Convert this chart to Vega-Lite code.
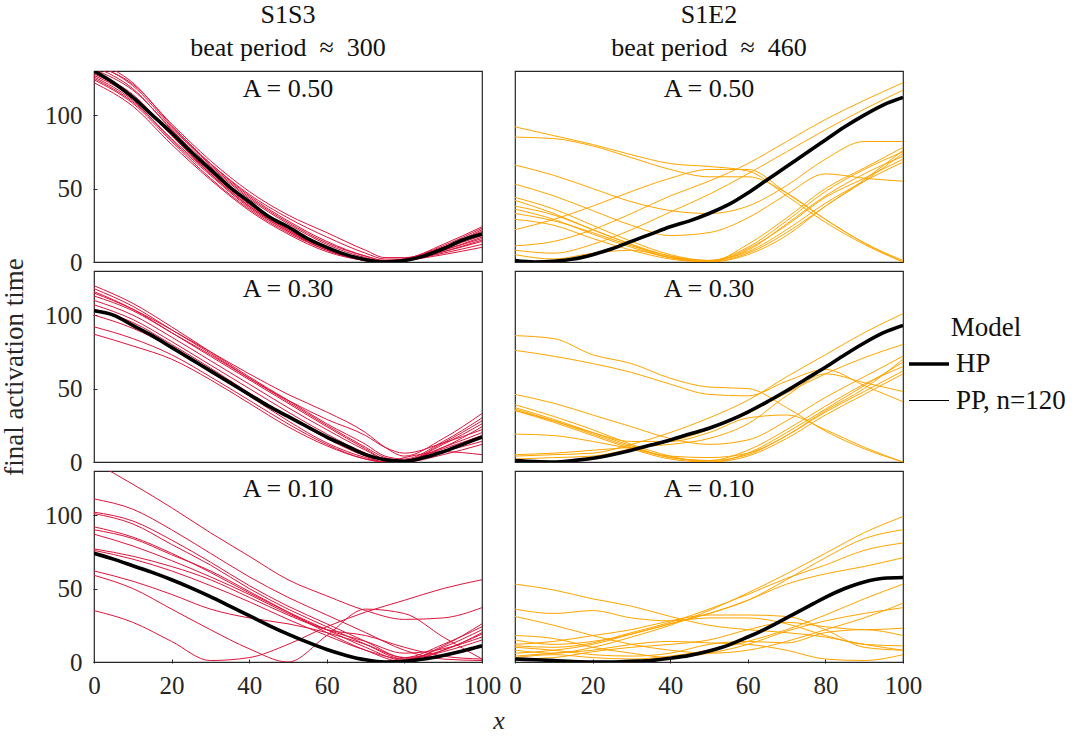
{
"$schema":"https://vega.github.io/schema/vega-lite/v6.json",
"padding":{"left":0,"top":2,"right":5,"bottom":5},
"config":{"font":"Liberation Serif","view":{"stroke":"#262626","strokeWidth":1.2},
"axis":{"domain":false,"grid":false,"tickSize":-4,"tickColor":"#262626","labelColor":"#262626","labelFont":"Liberation Serif","labelFontSize":25,"labelFlush":false,"labelOverlap":false,"labelBound":false,"labelPadding":15},
"axisX":{"labelPadding":14}},
"datasets":{
"panels":[{"p":1,"c":"S1S3","a":"0.50","lab":"A = 0.50"},{"p":2,"c":"S1E2","a":"0.50","lab":"A = 0.50"},{"p":3,"c":"S1S3","a":"0.30","lab":"A = 0.30"},{"p":4,"c":"S1E2","a":"0.30","lab":"A = 0.30"},{"p":5,"c":"S1S3","a":"0.10","lab":"A = 0.10"},{"p":6,"c":"S1E2","a":"0.10","lab":"A = 0.10"}],
"series":[{"s":0,"m":"HP"},{"s":1,"m":"PP, n=120"},{"s":2,"m":"PP, n=120"},{"s":3,"m":"PP, n=120"},{"s":4,"m":"PP, n=120"},{"s":5,"m":"PP, n=120"},{"s":6,"m":"PP, n=120"},{"s":7,"m":"PP, n=120"},{"s":8,"m":"PP, n=120"},{"s":9,"m":"PP, n=120"},{"s":10,"m":"PP, n=120"},{"s":11,"m":"PP, n=120"},{"s":12,"m":"PP, n=120"},{"s":13,"m":"PP, n=120"},{"s":14,"m":"PP, n=120"}],
"pts":[
{"p":1,"s":0,"x":0,"y":130},{"p":1,"s":0,"x":5,"y":122},{"p":1,"s":0,"x":10,"y":112},{"p":1,"s":0,"x":15,"y":100},{"p":1,"s":0,"x":20,"y":88},{"p":1,"s":0,"x":25,"y":75},{"p":1,"s":0,"x":30,"y":63},{"p":1,"s":0,"x":35,"y":51},{"p":1,"s":0,"x":40,"y":41},{"p":1,"s":0,"x":45,"y":31},{"p":1,"s":0,"x":50,"y":24},{"p":1,"s":0,"x":55,"y":16},{"p":1,"s":0,"x":60,"y":10},{"p":1,"s":0,"x":65,"y":5},{"p":1,"s":0,"x":70,"y":1.5},{"p":1,"s":0,"x":75,"y":0},{"p":1,"s":0,"x":80,"y":1},{"p":1,"s":0,"x":85,"y":4},{"p":1,"s":0,"x":90,"y":9},{"p":1,"s":0,"x":95,"y":15},{"p":1,"s":0,"x":100,"y":19},
{"p":1,"s":1,"x":0,"y":135},{"p":1,"s":1,"x":10,"y":120},{"p":1,"s":1,"x":20,"y":92},{"p":1,"s":1,"x":30,"y":66},{"p":1,"s":1,"x":40,"y":44},{"p":1,"s":1,"x":50,"y":27},{"p":1,"s":1,"x":60,"y":13},{"p":1,"s":1,"x":70,"y":4},{"p":1,"s":1,"x":75,"y":1},{"p":1,"s":1,"x":80,"y":2},{"p":1,"s":1,"x":90,"y":10},{"p":1,"s":1,"x":100,"y":22},
{"p":1,"s":2,"x":0,"y":133},{"p":1,"s":2,"x":10,"y":118},{"p":1,"s":2,"x":20,"y":90},{"p":1,"s":2,"x":30,"y":65},{"p":1,"s":2,"x":40,"y":43},{"p":1,"s":2,"x":50,"y":26},{"p":1,"s":2,"x":60,"y":12},{"p":1,"s":2,"x":70,"y":3},{"p":1,"s":2,"x":75,"y":0.5},{"p":1,"s":2,"x":80,"y":2},{"p":1,"s":2,"x":90,"y":11},{"p":1,"s":2,"x":100,"y":23},
{"p":1,"s":3,"x":0,"y":128},{"p":1,"s":3,"x":10,"y":113},{"p":1,"s":3,"x":20,"y":86},{"p":1,"s":3,"x":30,"y":61},{"p":1,"s":3,"x":40,"y":39},{"p":1,"s":3,"x":50,"y":22},{"p":1,"s":3,"x":60,"y":9},{"p":1,"s":3,"x":70,"y":2},{"p":1,"s":3,"x":75,"y":0},{"p":1,"s":3,"x":80,"y":1},{"p":1,"s":3,"x":90,"y":8},{"p":1,"s":3,"x":100,"y":17},
{"p":1,"s":4,"x":0,"y":126},{"p":1,"s":4,"x":10,"y":110},{"p":1,"s":4,"x":20,"y":83},{"p":1,"s":4,"x":30,"y":59},{"p":1,"s":4,"x":40,"y":37},{"p":1,"s":4,"x":50,"y":21},{"p":1,"s":4,"x":60,"y":8},{"p":1,"s":4,"x":70,"y":1},{"p":1,"s":4,"x":75,"y":0},{"p":1,"s":4,"x":80,"y":1},{"p":1,"s":4,"x":90,"y":7},{"p":1,"s":4,"x":100,"y":15},
{"p":1,"s":5,"x":0,"y":124},{"p":1,"s":5,"x":10,"y":108},{"p":1,"s":5,"x":20,"y":82},{"p":1,"s":5,"x":30,"y":57},{"p":1,"s":5,"x":40,"y":36},{"p":1,"s":5,"x":50,"y":20},{"p":1,"s":5,"x":60,"y":8},{"p":1,"s":5,"x":70,"y":1},{"p":1,"s":5,"x":75,"y":0},{"p":1,"s":5,"x":80,"y":1},{"p":1,"s":5,"x":90,"y":6},{"p":1,"s":5,"x":100,"y":12},
{"p":1,"s":6,"x":0,"y":122},{"p":1,"s":6,"x":10,"y":106},{"p":1,"s":6,"x":20,"y":80},{"p":1,"s":6,"x":30,"y":56},{"p":1,"s":6,"x":40,"y":35},{"p":1,"s":6,"x":50,"y":19},{"p":1,"s":6,"x":60,"y":7},{"p":1,"s":6,"x":70,"y":1},{"p":1,"s":6,"x":75,"y":0},{"p":1,"s":6,"x":80,"y":1},{"p":1,"s":6,"x":90,"y":5},{"p":1,"s":6,"x":100,"y":10},
{"p":1,"s":7,"x":0,"y":131},{"p":1,"s":7,"x":10,"y":117},{"p":1,"s":7,"x":20,"y":91},{"p":1,"s":7,"x":30,"y":67},{"p":1,"s":7,"x":40,"y":46},{"p":1,"s":7,"x":50,"y":30},{"p":1,"s":7,"x":60,"y":17},{"p":1,"s":7,"x":70,"y":6},{"p":1,"s":7,"x":75,"y":2},{"p":1,"s":7,"x":80,"y":2},{"p":1,"s":7,"x":90,"y":9},{"p":1,"s":7,"x":100,"y":20},
{"p":1,"s":8,"x":0,"y":134},{"p":1,"s":8,"x":10,"y":121},{"p":1,"s":8,"x":20,"y":94},{"p":1,"s":8,"x":30,"y":69},{"p":1,"s":8,"x":40,"y":48},{"p":1,"s":8,"x":50,"y":32},{"p":1,"s":8,"x":60,"y":20},{"p":1,"s":8,"x":70,"y":8},{"p":1,"s":8,"x":75,"y":3},{"p":1,"s":8,"x":80,"y":3},{"p":1,"s":8,"x":90,"y":10},{"p":1,"s":8,"x":100,"y":21},
{"p":1,"s":9,"x":0,"y":129},{"p":1,"s":9,"x":10,"y":114},{"p":1,"s":9,"x":20,"y":87},{"p":1,"s":9,"x":30,"y":62},{"p":1,"s":9,"x":40,"y":40},{"p":1,"s":9,"x":50,"y":23},{"p":1,"s":9,"x":60,"y":10},{"p":1,"s":9,"x":70,"y":2},{"p":1,"s":9,"x":75,"y":0},{"p":1,"s":9,"x":80,"y":1},{"p":1,"s":9,"x":90,"y":9},{"p":1,"s":9,"x":100,"y":18},
{"p":1,"s":10,"x":0,"y":127},{"p":1,"s":10,"x":10,"y":112},{"p":1,"s":10,"x":20,"y":86},{"p":1,"s":10,"x":30,"y":60},{"p":1,"s":10,"x":40,"y":38},{"p":1,"s":10,"x":50,"y":22},{"p":1,"s":10,"x":60,"y":9},{"p":1,"s":10,"x":70,"y":1},{"p":1,"s":10,"x":75,"y":0},{"p":1,"s":10,"x":80,"y":1},{"p":1,"s":10,"x":90,"y":8},{"p":1,"s":10,"x":100,"y":16},
{"p":1,"s":11,"x":0,"y":137},{"p":1,"s":11,"x":10,"y":122},{"p":1,"s":11,"x":20,"y":93},{"p":1,"s":11,"x":30,"y":67},{"p":1,"s":11,"x":40,"y":45},{"p":1,"s":11,"x":50,"y":28},{"p":1,"s":11,"x":60,"y":14},{"p":1,"s":11,"x":70,"y":4},{"p":1,"s":11,"x":75,"y":1},{"p":1,"s":11,"x":80,"y":2},{"p":1,"s":11,"x":90,"y":12},{"p":1,"s":11,"x":100,"y":24},
{"p":1,"s":12,"x":0,"y":125},{"p":1,"s":12,"x":10,"y":109},{"p":1,"s":12,"x":20,"y":84},{"p":1,"s":12,"x":30,"y":60},{"p":1,"s":12,"x":40,"y":38},{"p":1,"s":12,"x":50,"y":21},{"p":1,"s":12,"x":60,"y":9},{"p":1,"s":12,"x":70,"y":2},{"p":1,"s":12,"x":75,"y":0},{"p":1,"s":12,"x":80,"y":1},{"p":1,"s":12,"x":90,"y":7},{"p":1,"s":12,"x":100,"y":14},
{"p":2,"s":0,"x":0,"y":1},{"p":2,"s":0,"x":5,"y":0},{"p":2,"s":0,"x":10,"y":0.5},{"p":2,"s":0,"x":15,"y":2},{"p":2,"s":0,"x":20,"y":5},{"p":2,"s":0,"x":25,"y":9},{"p":2,"s":0,"x":30,"y":14},{"p":2,"s":0,"x":35,"y":19},{"p":2,"s":0,"x":40,"y":24},{"p":2,"s":0,"x":45,"y":28},{"p":2,"s":0,"x":50,"y":33},{"p":2,"s":0,"x":55,"y":39},{"p":2,"s":0,"x":60,"y":47},{"p":2,"s":0,"x":65,"y":56},{"p":2,"s":0,"x":70,"y":65},{"p":2,"s":0,"x":75,"y":74},{"p":2,"s":0,"x":80,"y":83},{"p":2,"s":0,"x":85,"y":92},{"p":2,"s":0,"x":90,"y":100},{"p":2,"s":0,"x":95,"y":107},{"p":2,"s":0,"x":100,"y":112},
{"p":2,"s":1,"x":0,"y":92},{"p":2,"s":1,"x":10,"y":86},{"p":2,"s":1,"x":20,"y":80},{"p":2,"s":1,"x":30,"y":73},{"p":2,"s":1,"x":40,"y":67},{"p":2,"s":1,"x":50,"y":65},{"p":2,"s":1,"x":60,"y":62},{"p":2,"s":1,"x":70,"y":45},{"p":2,"s":1,"x":80,"y":27},{"p":2,"s":1,"x":90,"y":12},{"p":2,"s":1,"x":100,"y":0},
{"p":2,"s":2,"x":0,"y":85},{"p":2,"s":2,"x":10,"y":84},{"p":2,"s":2,"x":20,"y":79},{"p":2,"s":2,"x":30,"y":71},{"p":2,"s":2,"x":40,"y":63},{"p":2,"s":2,"x":50,"y":58},{"p":2,"s":2,"x":60,"y":58},{"p":2,"s":2,"x":70,"y":47},{"p":2,"s":2,"x":80,"y":29},{"p":2,"s":2,"x":90,"y":13},{"p":2,"s":2,"x":100,"y":1},
{"p":2,"s":3,"x":0,"y":22},{"p":2,"s":3,"x":10,"y":29},{"p":2,"s":3,"x":20,"y":38},{"p":2,"s":3,"x":30,"y":48},{"p":2,"s":3,"x":40,"y":57},{"p":2,"s":3,"x":50,"y":63},{"p":2,"s":3,"x":60,"y":63},{"p":2,"s":3,"x":70,"y":47},{"p":2,"s":3,"x":80,"y":29},{"p":2,"s":3,"x":90,"y":13},{"p":2,"s":3,"x":100,"y":0},
{"p":2,"s":4,"x":0,"y":66},{"p":2,"s":4,"x":10,"y":59},{"p":2,"s":4,"x":20,"y":50},{"p":2,"s":4,"x":30,"y":41},{"p":2,"s":4,"x":40,"y":35},{"p":2,"s":4,"x":50,"y":33},{"p":2,"s":4,"x":60,"y":38},{"p":2,"s":4,"x":70,"y":52},{"p":2,"s":4,"x":80,"y":70},{"p":2,"s":4,"x":90,"y":82},{"p":2,"s":4,"x":100,"y":82},
{"p":2,"s":5,"x":0,"y":53},{"p":2,"s":5,"x":10,"y":45},{"p":2,"s":5,"x":20,"y":35},{"p":2,"s":5,"x":30,"y":25},{"p":2,"s":5,"x":40,"y":18},{"p":2,"s":5,"x":50,"y":20},{"p":2,"s":5,"x":60,"y":30},{"p":2,"s":5,"x":70,"y":46},{"p":2,"s":5,"x":80,"y":60},{"p":2,"s":5,"x":90,"y":57},{"p":2,"s":5,"x":100,"y":55},
{"p":2,"s":6,"x":0,"y":11},{"p":2,"s":6,"x":10,"y":14},{"p":2,"s":6,"x":20,"y":22},{"p":2,"s":6,"x":30,"y":33},{"p":2,"s":6,"x":40,"y":45},{"p":2,"s":6,"x":50,"y":55},{"p":2,"s":6,"x":60,"y":67},{"p":2,"s":6,"x":70,"y":82},{"p":2,"s":6,"x":80,"y":97},{"p":2,"s":6,"x":90,"y":110},{"p":2,"s":6,"x":100,"y":122},
{"p":2,"s":7,"x":0,"y":8},{"p":2,"s":7,"x":10,"y":6},{"p":2,"s":7,"x":20,"y":12},{"p":2,"s":7,"x":30,"y":22},{"p":2,"s":7,"x":40,"y":34},{"p":2,"s":7,"x":50,"y":46},{"p":2,"s":7,"x":60,"y":60},{"p":2,"s":7,"x":70,"y":75},{"p":2,"s":7,"x":80,"y":90},{"p":2,"s":7,"x":90,"y":104},{"p":2,"s":7,"x":100,"y":117},
{"p":2,"s":8,"x":0,"y":44},{"p":2,"s":8,"x":10,"y":36},{"p":2,"s":8,"x":20,"y":25},{"p":2,"s":8,"x":30,"y":14},{"p":2,"s":8,"x":40,"y":5},{"p":2,"s":8,"x":50,"y":1},{"p":2,"s":8,"x":60,"y":10},{"p":2,"s":8,"x":70,"y":28},{"p":2,"s":8,"x":80,"y":48},{"p":2,"s":8,"x":90,"y":63},{"p":2,"s":8,"x":100,"y":75},
{"p":2,"s":9,"x":0,"y":42},{"p":2,"s":9,"x":10,"y":33},{"p":2,"s":9,"x":20,"y":22},{"p":2,"s":9,"x":30,"y":12},{"p":2,"s":9,"x":40,"y":4},{"p":2,"s":9,"x":50,"y":0},{"p":2,"s":9,"x":60,"y":12},{"p":2,"s":9,"x":70,"y":30},{"p":2,"s":9,"x":80,"y":50},{"p":2,"s":9,"x":90,"y":64},{"p":2,"s":9,"x":100,"y":78},
{"p":2,"s":10,"x":0,"y":38},{"p":2,"s":10,"x":10,"y":32},{"p":2,"s":10,"x":20,"y":22},{"p":2,"s":10,"x":30,"y":12},{"p":2,"s":10,"x":40,"y":3},{"p":2,"s":10,"x":50,"y":1},{"p":2,"s":10,"x":60,"y":8},{"p":2,"s":10,"x":70,"y":26},{"p":2,"s":10,"x":80,"y":45},{"p":2,"s":10,"x":90,"y":60},{"p":2,"s":10,"x":100,"y":72},
{"p":2,"s":11,"x":0,"y":36},{"p":2,"s":11,"x":10,"y":29},{"p":2,"s":11,"x":20,"y":19},{"p":2,"s":11,"x":30,"y":10},{"p":2,"s":11,"x":40,"y":3},{"p":2,"s":11,"x":50,"y":0},{"p":2,"s":11,"x":60,"y":9},{"p":2,"s":11,"x":70,"y":25},{"p":2,"s":11,"x":80,"y":44},{"p":2,"s":11,"x":90,"y":57},{"p":2,"s":11,"x":100,"y":70},
{"p":2,"s":12,"x":0,"y":33},{"p":2,"s":12,"x":10,"y":28},{"p":2,"s":12,"x":20,"y":20},{"p":2,"s":12,"x":30,"y":11},{"p":2,"s":12,"x":40,"y":4},{"p":2,"s":12,"x":50,"y":1},{"p":2,"s":12,"x":60,"y":7},{"p":2,"s":12,"x":70,"y":22},{"p":2,"s":12,"x":80,"y":40},{"p":2,"s":12,"x":90,"y":55},{"p":2,"s":12,"x":100,"y":68},
{"p":2,"s":13,"x":0,"y":29},{"p":2,"s":13,"x":10,"y":25},{"p":2,"s":13,"x":20,"y":16},{"p":2,"s":13,"x":30,"y":8},{"p":2,"s":13,"x":40,"y":2},{"p":2,"s":13,"x":50,"y":0},{"p":2,"s":13,"x":60,"y":6},{"p":2,"s":13,"x":70,"y":20},{"p":2,"s":13,"x":80,"y":38},{"p":2,"s":13,"x":90,"y":56},{"p":2,"s":13,"x":100,"y":76},
{"p":2,"s":14,"x":0,"y":5},{"p":2,"s":14,"x":10,"y":2},{"p":2,"s":14,"x":20,"y":6},{"p":2,"s":14,"x":30,"y":8},{"p":2,"s":14,"x":40,"y":3},{"p":2,"s":14,"x":50,"y":0},{"p":2,"s":14,"x":60,"y":5},{"p":2,"s":14,"x":70,"y":18},{"p":2,"s":14,"x":80,"y":38},{"p":2,"s":14,"x":90,"y":55},{"p":2,"s":14,"x":100,"y":74},
{"p":3,"s":0,"x":0,"y":103},{"p":3,"s":0,"x":5,"y":100},{"p":3,"s":0,"x":10,"y":93},{"p":3,"s":0,"x":15,"y":86},{"p":3,"s":0,"x":20,"y":78},{"p":3,"s":0,"x":25,"y":70},{"p":3,"s":0,"x":30,"y":62},{"p":3,"s":0,"x":35,"y":54},{"p":3,"s":0,"x":40,"y":46},{"p":3,"s":0,"x":45,"y":38},{"p":3,"s":0,"x":50,"y":31},{"p":3,"s":0,"x":55,"y":24},{"p":3,"s":0,"x":60,"y":17},{"p":3,"s":0,"x":65,"y":11},{"p":3,"s":0,"x":70,"y":5},{"p":3,"s":0,"x":75,"y":1.5},{"p":3,"s":0,"x":80,"y":0.5},{"p":3,"s":0,"x":85,"y":3},{"p":3,"s":0,"x":90,"y":7},{"p":3,"s":0,"x":95,"y":12},{"p":3,"s":0,"x":100,"y":17},
{"p":3,"s":1,"x":0,"y":120},{"p":3,"s":1,"x":10,"y":108},{"p":3,"s":1,"x":20,"y":92},{"p":3,"s":1,"x":30,"y":75},{"p":3,"s":1,"x":40,"y":58},{"p":3,"s":1,"x":50,"y":42},{"p":3,"s":1,"x":60,"y":26},{"p":3,"s":1,"x":70,"y":12},{"p":3,"s":1,"x":75,"y":4},{"p":3,"s":1,"x":80,"y":2},{"p":3,"s":1,"x":90,"y":14},{"p":3,"s":1,"x":100,"y":30},
{"p":3,"s":2,"x":0,"y":118},{"p":3,"s":2,"x":10,"y":106},{"p":3,"s":2,"x":20,"y":90},{"p":3,"s":2,"x":30,"y":74},{"p":3,"s":2,"x":40,"y":57},{"p":3,"s":2,"x":50,"y":41},{"p":3,"s":2,"x":60,"y":25},{"p":3,"s":2,"x":70,"y":10},{"p":3,"s":2,"x":75,"y":3},{"p":3,"s":2,"x":80,"y":1},{"p":3,"s":2,"x":90,"y":13},{"p":3,"s":2,"x":100,"y":28},
{"p":3,"s":3,"x":0,"y":116},{"p":3,"s":3,"x":10,"y":104},{"p":3,"s":3,"x":20,"y":88},{"p":3,"s":3,"x":30,"y":72},{"p":3,"s":3,"x":40,"y":56},{"p":3,"s":3,"x":50,"y":40},{"p":3,"s":3,"x":60,"y":24},{"p":3,"s":3,"x":70,"y":9},{"p":3,"s":3,"x":75,"y":2},{"p":3,"s":3,"x":80,"y":1},{"p":3,"s":3,"x":90,"y":12},{"p":3,"s":3,"x":100,"y":26},
{"p":3,"s":4,"x":0,"y":113},{"p":3,"s":4,"x":10,"y":103},{"p":3,"s":4,"x":20,"y":88},{"p":3,"s":4,"x":30,"y":73},{"p":3,"s":4,"x":40,"y":57},{"p":3,"s":4,"x":50,"y":42},{"p":3,"s":4,"x":60,"y":29},{"p":3,"s":4,"x":70,"y":18},{"p":3,"s":4,"x":75,"y":10},{"p":3,"s":4,"x":80,"y":6},{"p":3,"s":4,"x":90,"y":13},{"p":3,"s":4,"x":100,"y":22},
{"p":3,"s":5,"x":0,"y":110},{"p":3,"s":5,"x":10,"y":100},{"p":3,"s":5,"x":20,"y":85},{"p":3,"s":5,"x":30,"y":69},{"p":3,"s":5,"x":40,"y":53},{"p":3,"s":5,"x":50,"y":37},{"p":3,"s":5,"x":60,"y":22},{"p":3,"s":5,"x":70,"y":8},{"p":3,"s":5,"x":75,"y":2},{"p":3,"s":5,"x":80,"y":1},{"p":3,"s":5,"x":90,"y":10},{"p":3,"s":5,"x":100,"y":20},
{"p":3,"s":6,"x":0,"y":107},{"p":3,"s":6,"x":10,"y":97},{"p":3,"s":6,"x":20,"y":82},{"p":3,"s":6,"x":30,"y":66},{"p":3,"s":6,"x":40,"y":50},{"p":3,"s":6,"x":50,"y":34},{"p":3,"s":6,"x":60,"y":19},{"p":3,"s":6,"x":70,"y":6},{"p":3,"s":6,"x":75,"y":1},{"p":3,"s":6,"x":80,"y":1},{"p":3,"s":6,"x":90,"y":9},{"p":3,"s":6,"x":100,"y":18},
{"p":3,"s":7,"x":0,"y":104},{"p":3,"s":7,"x":10,"y":95},{"p":3,"s":7,"x":20,"y":80},{"p":3,"s":7,"x":30,"y":64},{"p":3,"s":7,"x":40,"y":47},{"p":3,"s":7,"x":50,"y":31},{"p":3,"s":7,"x":60,"y":16},{"p":3,"s":7,"x":70,"y":4},{"p":3,"s":7,"x":75,"y":0},{"p":3,"s":7,"x":80,"y":0},{"p":3,"s":7,"x":90,"y":7},{"p":3,"s":7,"x":100,"y":14},
{"p":3,"s":8,"x":0,"y":100},{"p":3,"s":8,"x":10,"y":91},{"p":3,"s":8,"x":20,"y":78},{"p":3,"s":8,"x":30,"y":62},{"p":3,"s":8,"x":40,"y":45},{"p":3,"s":8,"x":50,"y":28},{"p":3,"s":8,"x":60,"y":13},{"p":3,"s":8,"x":70,"y":3},{"p":3,"s":8,"x":75,"y":0},{"p":3,"s":8,"x":80,"y":0},{"p":3,"s":8,"x":90,"y":5},{"p":3,"s":8,"x":100,"y":12},
{"p":3,"s":9,"x":0,"y":92},{"p":3,"s":9,"x":10,"y":84},{"p":3,"s":9,"x":20,"y":73},{"p":3,"s":9,"x":30,"y":58},{"p":3,"s":9,"x":40,"y":42},{"p":3,"s":9,"x":50,"y":26},{"p":3,"s":9,"x":60,"y":12},{"p":3,"s":9,"x":70,"y":2},{"p":3,"s":9,"x":75,"y":0},{"p":3,"s":9,"x":80,"y":3},{"p":3,"s":9,"x":90,"y":7},{"p":3,"s":9,"x":100,"y":5},
{"p":3,"s":10,"x":0,"y":87},{"p":3,"s":10,"x":10,"y":79},{"p":3,"s":10,"x":20,"y":70},{"p":3,"s":10,"x":30,"y":56},{"p":3,"s":10,"x":40,"y":40},{"p":3,"s":10,"x":50,"y":24},{"p":3,"s":10,"x":60,"y":11},{"p":3,"s":10,"x":70,"y":2},{"p":3,"s":10,"x":75,"y":0},{"p":3,"s":10,"x":80,"y":1},{"p":3,"s":10,"x":90,"y":10},{"p":3,"s":10,"x":100,"y":24},
{"p":3,"s":11,"x":0,"y":115},{"p":3,"s":11,"x":10,"y":104},{"p":3,"s":11,"x":20,"y":90},{"p":3,"s":11,"x":30,"y":75},{"p":3,"s":11,"x":40,"y":60},{"p":3,"s":11,"x":50,"y":46},{"p":3,"s":11,"x":60,"y":34},{"p":3,"s":11,"x":70,"y":20},{"p":3,"s":11,"x":75,"y":10},{"p":3,"s":11,"x":80,"y":4},{"p":3,"s":11,"x":90,"y":16},{"p":3,"s":11,"x":100,"y":33},
{"p":4,"s":0,"x":0,"y":1},{"p":4,"s":0,"x":5,"y":0.3},{"p":4,"s":0,"x":10,"y":0},{"p":4,"s":0,"x":15,"y":1},{"p":4,"s":0,"x":20,"y":2.5},{"p":4,"s":0,"x":25,"y":5},{"p":4,"s":0,"x":30,"y":8},{"p":4,"s":0,"x":35,"y":11.5},{"p":4,"s":0,"x":40,"y":15},{"p":4,"s":0,"x":45,"y":19},{"p":4,"s":0,"x":50,"y":23},{"p":4,"s":0,"x":55,"y":28},{"p":4,"s":0,"x":60,"y":34},{"p":4,"s":0,"x":65,"y":41},{"p":4,"s":0,"x":70,"y":48.5},{"p":4,"s":0,"x":75,"y":56.5},{"p":4,"s":0,"x":80,"y":64.5},{"p":4,"s":0,"x":85,"y":73},{"p":4,"s":0,"x":90,"y":81},{"p":4,"s":0,"x":95,"y":88},{"p":4,"s":0,"x":100,"y":93},
{"p":4,"s":1,"x":0,"y":86},{"p":4,"s":1,"x":10,"y":84},{"p":4,"s":1,"x":20,"y":73},{"p":4,"s":1,"x":30,"y":67},{"p":4,"s":1,"x":40,"y":57},{"p":4,"s":1,"x":50,"y":51},{"p":4,"s":1,"x":60,"y":50},{"p":4,"s":1,"x":70,"y":37},{"p":4,"s":1,"x":80,"y":21},{"p":4,"s":1,"x":90,"y":9},{"p":4,"s":1,"x":100,"y":0},
{"p":4,"s":2,"x":0,"y":76},{"p":4,"s":2,"x":10,"y":72},{"p":4,"s":2,"x":20,"y":67},{"p":4,"s":2,"x":30,"y":61},{"p":4,"s":2,"x":40,"y":53},{"p":4,"s":2,"x":50,"y":46},{"p":4,"s":2,"x":60,"y":45},{"p":4,"s":2,"x":70,"y":55},{"p":4,"s":2,"x":80,"y":63},{"p":4,"s":2,"x":90,"y":52},{"p":4,"s":2,"x":100,"y":41},
{"p":4,"s":3,"x":0,"y":4},{"p":4,"s":3,"x":10,"y":5},{"p":4,"s":3,"x":20,"y":6},{"p":4,"s":3,"x":30,"y":12},{"p":4,"s":3,"x":40,"y":20},{"p":4,"s":3,"x":50,"y":30},{"p":4,"s":3,"x":60,"y":42},{"p":4,"s":3,"x":70,"y":58},{"p":4,"s":3,"x":80,"y":73},{"p":4,"s":3,"x":90,"y":88},{"p":4,"s":3,"x":100,"y":101},
{"p":4,"s":4,"x":0,"y":2},{"p":4,"s":4,"x":10,"y":3},{"p":4,"s":4,"x":20,"y":4},{"p":4,"s":4,"x":30,"y":9},{"p":4,"s":4,"x":40,"y":14},{"p":4,"s":4,"x":50,"y":22},{"p":4,"s":4,"x":60,"y":33},{"p":4,"s":4,"x":70,"y":47},{"p":4,"s":4,"x":80,"y":60},{"p":4,"s":4,"x":90,"y":71},{"p":4,"s":4,"x":100,"y":80},
{"p":4,"s":5,"x":0,"y":46},{"p":4,"s":5,"x":10,"y":40},{"p":4,"s":5,"x":20,"y":32},{"p":4,"s":5,"x":30,"y":24},{"p":4,"s":5,"x":40,"y":16},{"p":4,"s":5,"x":50,"y":12},{"p":4,"s":5,"x":60,"y":15},{"p":4,"s":5,"x":70,"y":28},{"p":4,"s":5,"x":80,"y":44},{"p":4,"s":5,"x":90,"y":58},{"p":4,"s":5,"x":100,"y":72},
{"p":4,"s":6,"x":0,"y":39},{"p":4,"s":6,"x":10,"y":31},{"p":4,"s":6,"x":20,"y":22},{"p":4,"s":6,"x":30,"y":12},{"p":4,"s":6,"x":40,"y":4},{"p":4,"s":6,"x":50,"y":0},{"p":4,"s":6,"x":60,"y":6},{"p":4,"s":6,"x":70,"y":20},{"p":4,"s":6,"x":80,"y":36},{"p":4,"s":6,"x":90,"y":52},{"p":4,"s":6,"x":100,"y":68},
{"p":4,"s":7,"x":0,"y":37},{"p":4,"s":7,"x":10,"y":29},{"p":4,"s":7,"x":20,"y":20},{"p":4,"s":7,"x":30,"y":11},{"p":4,"s":7,"x":40,"y":3},{"p":4,"s":7,"x":50,"y":1},{"p":4,"s":7,"x":60,"y":8},{"p":4,"s":7,"x":70,"y":22},{"p":4,"s":7,"x":80,"y":38},{"p":4,"s":7,"x":90,"y":53},{"p":4,"s":7,"x":100,"y":65},
{"p":4,"s":8,"x":0,"y":36},{"p":4,"s":8,"x":10,"y":28},{"p":4,"s":8,"x":20,"y":19},{"p":4,"s":8,"x":30,"y":10},{"p":4,"s":8,"x":40,"y":3},{"p":4,"s":8,"x":50,"y":1},{"p":4,"s":8,"x":60,"y":5},{"p":4,"s":8,"x":70,"y":18},{"p":4,"s":8,"x":80,"y":34},{"p":4,"s":8,"x":90,"y":48},{"p":4,"s":8,"x":100,"y":62},
{"p":4,"s":9,"x":0,"y":35},{"p":4,"s":9,"x":10,"y":27},{"p":4,"s":9,"x":20,"y":18},{"p":4,"s":9,"x":30,"y":9},{"p":4,"s":9,"x":40,"y":2},{"p":4,"s":9,"x":50,"y":0},{"p":4,"s":9,"x":60,"y":4},{"p":4,"s":9,"x":70,"y":16},{"p":4,"s":9,"x":80,"y":32},{"p":4,"s":9,"x":90,"y":46},{"p":4,"s":9,"x":100,"y":60},
{"p":4,"s":10,"x":0,"y":19},{"p":4,"s":10,"x":10,"y":18},{"p":4,"s":10,"x":20,"y":14},{"p":4,"s":10,"x":30,"y":9},{"p":4,"s":10,"x":40,"y":4},{"p":4,"s":10,"x":50,"y":3},{"p":4,"s":10,"x":60,"y":6},{"p":4,"s":10,"x":70,"y":18},{"p":4,"s":10,"x":80,"y":35},{"p":4,"s":10,"x":90,"y":50},{"p":4,"s":10,"x":100,"y":70},
{"p":4,"s":11,"x":0,"y":35},{"p":4,"s":11,"x":10,"y":28},{"p":4,"s":11,"x":20,"y":20},{"p":4,"s":11,"x":30,"y":14},{"p":4,"s":11,"x":40,"y":14},{"p":4,"s":11,"x":50,"y":20},{"p":4,"s":11,"x":60,"y":30},{"p":4,"s":11,"x":70,"y":32},{"p":4,"s":11,"x":80,"y":22},{"p":4,"s":11,"x":90,"y":10},{"p":4,"s":11,"x":100,"y":0},
{"p":4,"s":12,"x":0,"y":5},{"p":4,"s":12,"x":10,"y":6},{"p":4,"s":12,"x":20,"y":8},{"p":4,"s":12,"x":30,"y":10},{"p":4,"s":12,"x":40,"y":12},{"p":4,"s":12,"x":50,"y":16},{"p":4,"s":12,"x":60,"y":26},{"p":4,"s":12,"x":70,"y":45},{"p":4,"s":12,"x":80,"y":60},{"p":4,"s":12,"x":90,"y":54},{"p":4,"s":12,"x":100,"y":48},
{"p":5,"s":0,"x":0,"y":74},{"p":5,"s":0,"x":5,"y":70},{"p":5,"s":0,"x":10,"y":65.5},{"p":5,"s":0,"x":15,"y":61},{"p":5,"s":0,"x":20,"y":56},{"p":5,"s":0,"x":25,"y":50.5},{"p":5,"s":0,"x":30,"y":44.5},{"p":5,"s":0,"x":35,"y":38},{"p":5,"s":0,"x":40,"y":31.5},{"p":5,"s":0,"x":45,"y":25},{"p":5,"s":0,"x":50,"y":19},{"p":5,"s":0,"x":55,"y":13.5},{"p":5,"s":0,"x":60,"y":8.5},{"p":5,"s":0,"x":65,"y":4.5},{"p":5,"s":0,"x":70,"y":1.5},{"p":5,"s":0,"x":75,"y":0},{"p":5,"s":0,"x":80,"y":0.5},{"p":5,"s":0,"x":85,"y":2},{"p":5,"s":0,"x":90,"y":4.5},{"p":5,"s":0,"x":95,"y":7.5},{"p":5,"s":0,"x":100,"y":11},
{"p":5,"s":1,"x":0,"y":136},{"p":5,"s":1,"x":10,"y":121},{"p":5,"s":1,"x":20,"y":105},{"p":5,"s":1,"x":30,"y":88},{"p":5,"s":1,"x":40,"y":72},{"p":5,"s":1,"x":50,"y":56},{"p":5,"s":1,"x":60,"y":45},{"p":5,"s":1,"x":70,"y":35},{"p":5,"s":1,"x":80,"y":29},{"p":5,"s":1,"x":90,"y":30},{"p":5,"s":1,"x":100,"y":37},
{"p":5,"s":2,"x":0,"y":35},{"p":5,"s":2,"x":10,"y":27},{"p":5,"s":2,"x":20,"y":14},{"p":5,"s":2,"x":30,"y":1},{"p":5,"s":2,"x":40,"y":3},{"p":5,"s":2,"x":50,"y":12},{"p":5,"s":2,"x":60,"y":24},{"p":5,"s":2,"x":70,"y":34},{"p":5,"s":2,"x":80,"y":42},{"p":5,"s":2,"x":90,"y":50},{"p":5,"s":2,"x":100,"y":56},
{"p":5,"s":3,"x":0,"y":59},{"p":5,"s":3,"x":10,"y":50},{"p":5,"s":3,"x":20,"y":36},{"p":5,"s":3,"x":30,"y":22},{"p":5,"s":3,"x":40,"y":9},{"p":5,"s":3,"x":50,"y":0},{"p":5,"s":3,"x":60,"y":18},{"p":5,"s":3,"x":70,"y":36},{"p":5,"s":3,"x":80,"y":33},{"p":5,"s":3,"x":90,"y":17},{"p":5,"s":3,"x":100,"y":2},
{"p":5,"s":4,"x":0,"y":111},{"p":5,"s":4,"x":10,"y":104},{"p":5,"s":4,"x":20,"y":90},{"p":5,"s":4,"x":30,"y":74},{"p":5,"s":4,"x":40,"y":58},{"p":5,"s":4,"x":50,"y":44},{"p":5,"s":4,"x":60,"y":32},{"p":5,"s":4,"x":70,"y":20},{"p":5,"s":4,"x":80,"y":8},{"p":5,"s":4,"x":90,"y":2},{"p":5,"s":4,"x":100,"y":1},
{"p":5,"s":5,"x":0,"y":102},{"p":5,"s":5,"x":10,"y":96},{"p":5,"s":5,"x":20,"y":83},{"p":5,"s":5,"x":30,"y":68},{"p":5,"s":5,"x":40,"y":52},{"p":5,"s":5,"x":50,"y":38},{"p":5,"s":5,"x":60,"y":26},{"p":5,"s":5,"x":70,"y":14},{"p":5,"s":5,"x":80,"y":3},{"p":5,"s":5,"x":90,"y":12},{"p":5,"s":5,"x":100,"y":24},
{"p":5,"s":6,"x":0,"y":101},{"p":5,"s":6,"x":10,"y":94},{"p":5,"s":6,"x":20,"y":80},{"p":5,"s":6,"x":30,"y":66},{"p":5,"s":6,"x":40,"y":50},{"p":5,"s":6,"x":50,"y":36},{"p":5,"s":6,"x":60,"y":24},{"p":5,"s":6,"x":70,"y":12},{"p":5,"s":6,"x":80,"y":2},{"p":5,"s":6,"x":90,"y":10},{"p":5,"s":6,"x":100,"y":22},
{"p":5,"s":7,"x":0,"y":92},{"p":5,"s":7,"x":10,"y":85},{"p":5,"s":7,"x":20,"y":74},{"p":5,"s":7,"x":30,"y":61},{"p":5,"s":7,"x":40,"y":47},{"p":5,"s":7,"x":50,"y":34},{"p":5,"s":7,"x":60,"y":22},{"p":5,"s":7,"x":70,"y":10},{"p":5,"s":7,"x":80,"y":1},{"p":5,"s":7,"x":90,"y":11},{"p":5,"s":7,"x":100,"y":26},
{"p":5,"s":8,"x":0,"y":90},{"p":5,"s":8,"x":10,"y":84},{"p":5,"s":8,"x":20,"y":73},{"p":5,"s":8,"x":30,"y":62},{"p":5,"s":8,"x":40,"y":48},{"p":5,"s":8,"x":50,"y":34},{"p":5,"s":8,"x":60,"y":20},{"p":5,"s":8,"x":70,"y":8},{"p":5,"s":8,"x":80,"y":0},{"p":5,"s":8,"x":90,"y":8},{"p":5,"s":8,"x":100,"y":19},
{"p":5,"s":9,"x":0,"y":87},{"p":5,"s":9,"x":10,"y":79},{"p":5,"s":9,"x":20,"y":69},{"p":5,"s":9,"x":30,"y":58},{"p":5,"s":9,"x":40,"y":46},{"p":5,"s":9,"x":50,"y":33},{"p":5,"s":9,"x":60,"y":22},{"p":5,"s":9,"x":70,"y":14},{"p":5,"s":9,"x":80,"y":6},{"p":5,"s":9,"x":90,"y":9},{"p":5,"s":9,"x":100,"y":17},
{"p":5,"s":10,"x":0,"y":77},{"p":5,"s":10,"x":10,"y":72},{"p":5,"s":10,"x":20,"y":65},{"p":5,"s":10,"x":30,"y":56},{"p":5,"s":10,"x":40,"y":44},{"p":5,"s":10,"x":50,"y":32},{"p":5,"s":10,"x":60,"y":22},{"p":5,"s":10,"x":70,"y":18},{"p":5,"s":10,"x":80,"y":10},{"p":5,"s":10,"x":90,"y":4},{"p":5,"s":10,"x":100,"y":2},
{"p":5,"s":11,"x":0,"y":76},{"p":5,"s":11,"x":10,"y":70},{"p":5,"s":11,"x":20,"y":62},{"p":5,"s":11,"x":30,"y":52},{"p":5,"s":11,"x":40,"y":41},{"p":5,"s":11,"x":50,"y":29},{"p":5,"s":11,"x":60,"y":18},{"p":5,"s":11,"x":70,"y":8},{"p":5,"s":11,"x":80,"y":2},{"p":5,"s":11,"x":90,"y":7},{"p":5,"s":11,"x":100,"y":15},
{"p":5,"s":12,"x":0,"y":62},{"p":5,"s":12,"x":10,"y":55},{"p":5,"s":12,"x":20,"y":46},{"p":5,"s":12,"x":30,"y":36},{"p":5,"s":12,"x":40,"y":30},{"p":5,"s":12,"x":50,"y":26},{"p":5,"s":12,"x":60,"y":20},{"p":5,"s":12,"x":70,"y":12},{"p":5,"s":12,"x":80,"y":3},{"p":5,"s":12,"x":90,"y":8},{"p":5,"s":12,"x":100,"y":20},
{"p":6,"s":0,"x":0,"y":2},{"p":6,"s":0,"x":5,"y":1.5},{"p":6,"s":0,"x":10,"y":1},{"p":6,"s":0,"x":15,"y":0.3},{"p":6,"s":0,"x":20,"y":0},{"p":6,"s":0,"x":25,"y":0},{"p":6,"s":0,"x":30,"y":0.5},{"p":6,"s":0,"x":35,"y":1},{"p":6,"s":0,"x":40,"y":2.5},{"p":6,"s":0,"x":45,"y":4.5},{"p":6,"s":0,"x":50,"y":7.5},{"p":6,"s":0,"x":55,"y":11.5},{"p":6,"s":0,"x":60,"y":17},{"p":6,"s":0,"x":65,"y":23},{"p":6,"s":0,"x":70,"y":30},{"p":6,"s":0,"x":75,"y":37},{"p":6,"s":0,"x":80,"y":44},{"p":6,"s":0,"x":85,"y":50},{"p":6,"s":0,"x":90,"y":54.5},{"p":6,"s":0,"x":95,"y":57},{"p":6,"s":0,"x":100,"y":57.5},
{"p":6,"s":1,"x":0,"y":53},{"p":6,"s":1,"x":10,"y":49},{"p":6,"s":1,"x":20,"y":43},{"p":6,"s":1,"x":30,"y":38},{"p":6,"s":1,"x":40,"y":31},{"p":6,"s":1,"x":50,"y":25},{"p":6,"s":1,"x":60,"y":22},{"p":6,"s":1,"x":70,"y":20},{"p":6,"s":1,"x":80,"y":17},{"p":6,"s":1,"x":90,"y":12},{"p":6,"s":1,"x":100,"y":8},
{"p":6,"s":2,"x":0,"y":36},{"p":6,"s":2,"x":10,"y":33},{"p":6,"s":2,"x":20,"y":35},{"p":6,"s":2,"x":30,"y":30},{"p":6,"s":2,"x":40,"y":28},{"p":6,"s":2,"x":50,"y":30},{"p":6,"s":2,"x":60,"y":30},{"p":6,"s":2,"x":70,"y":26},{"p":6,"s":2,"x":80,"y":18},{"p":6,"s":2,"x":90,"y":12},{"p":6,"s":2,"x":100,"y":11},
{"p":6,"s":3,"x":0,"y":31},{"p":6,"s":3,"x":10,"y":25},{"p":6,"s":3,"x":20,"y":18},{"p":6,"s":3,"x":30,"y":12},{"p":6,"s":3,"x":40,"y":8},{"p":6,"s":3,"x":50,"y":6},{"p":6,"s":3,"x":60,"y":8},{"p":6,"s":3,"x":70,"y":14},{"p":6,"s":3,"x":80,"y":22},{"p":6,"s":3,"x":90,"y":30},{"p":6,"s":3,"x":100,"y":40},
{"p":6,"s":4,"x":0,"y":8},{"p":6,"s":4,"x":10,"y":6},{"p":6,"s":4,"x":20,"y":10},{"p":6,"s":4,"x":30,"y":17},{"p":6,"s":4,"x":40,"y":25},{"p":6,"s":4,"x":50,"y":35},{"p":6,"s":4,"x":60,"y":47},{"p":6,"s":4,"x":70,"y":60},{"p":6,"s":4,"x":80,"y":74},{"p":6,"s":4,"x":90,"y":88},{"p":6,"s":4,"x":100,"y":99},
{"p":6,"s":5,"x":0,"y":6},{"p":6,"s":5,"x":10,"y":8},{"p":6,"s":5,"x":20,"y":12},{"p":6,"s":5,"x":30,"y":19},{"p":6,"s":5,"x":40,"y":26},{"p":6,"s":5,"x":50,"y":33},{"p":6,"s":5,"x":60,"y":42},{"p":6,"s":5,"x":70,"y":56},{"p":6,"s":5,"x":80,"y":71},{"p":6,"s":5,"x":90,"y":84},{"p":6,"s":5,"x":100,"y":90},
{"p":6,"s":6,"x":0,"y":11},{"p":6,"s":6,"x":10,"y":10},{"p":6,"s":6,"x":20,"y":13},{"p":6,"s":6,"x":30,"y":20},{"p":6,"s":6,"x":40,"y":27},{"p":6,"s":6,"x":50,"y":36},{"p":6,"s":6,"x":60,"y":46},{"p":6,"s":6,"x":70,"y":57},{"p":6,"s":6,"x":80,"y":66},{"p":6,"s":6,"x":90,"y":76},{"p":6,"s":6,"x":100,"y":81},
{"p":6,"s":7,"x":0,"y":15},{"p":6,"s":7,"x":10,"y":12},{"p":6,"s":7,"x":20,"y":14},{"p":6,"s":7,"x":30,"y":19},{"p":6,"s":7,"x":40,"y":26},{"p":6,"s":7,"x":50,"y":33},{"p":6,"s":7,"x":60,"y":42},{"p":6,"s":7,"x":70,"y":53},{"p":6,"s":7,"x":80,"y":60},{"p":6,"s":7,"x":90,"y":65},{"p":6,"s":7,"x":100,"y":71},
{"p":6,"s":8,"x":0,"y":3},{"p":6,"s":8,"x":10,"y":5},{"p":6,"s":8,"x":20,"y":3},{"p":6,"s":8,"x":30,"y":2},{"p":6,"s":8,"x":40,"y":4},{"p":6,"s":8,"x":50,"y":8},{"p":6,"s":8,"x":60,"y":14},{"p":6,"s":8,"x":70,"y":22},{"p":6,"s":8,"x":80,"y":32},{"p":6,"s":8,"x":90,"y":43},{"p":6,"s":8,"x":100,"y":53},
{"p":6,"s":9,"x":0,"y":18},{"p":6,"s":9,"x":10,"y":16},{"p":6,"s":9,"x":20,"y":10},{"p":6,"s":9,"x":30,"y":6},{"p":6,"s":9,"x":40,"y":3},{"p":6,"s":9,"x":50,"y":6},{"p":6,"s":9,"x":60,"y":12},{"p":6,"s":9,"x":70,"y":21},{"p":6,"s":9,"x":80,"y":28},{"p":6,"s":9,"x":90,"y":33},{"p":6,"s":9,"x":100,"y":37},
{"p":6,"s":10,"x":0,"y":2},{"p":6,"s":10,"x":10,"y":3},{"p":6,"s":10,"x":20,"y":7},{"p":6,"s":10,"x":30,"y":10},{"p":6,"s":10,"x":40,"y":12},{"p":6,"s":10,"x":50,"y":15},{"p":6,"s":10,"x":60,"y":22},{"p":6,"s":10,"x":70,"y":27},{"p":6,"s":10,"x":80,"y":24},{"p":6,"s":10,"x":90,"y":22},{"p":6,"s":10,"x":100,"y":23},
{"p":6,"s":11,"x":0,"y":10},{"p":6,"s":11,"x":10,"y":8},{"p":6,"s":11,"x":20,"y":5},{"p":6,"s":11,"x":30,"y":4},{"p":6,"s":11,"x":40,"y":6},{"p":6,"s":11,"x":50,"y":12},{"p":6,"s":11,"x":60,"y":14},{"p":6,"s":11,"x":70,"y":13},{"p":6,"s":11,"x":80,"y":20},{"p":6,"s":11,"x":90,"y":22},{"p":6,"s":11,"x":100,"y":18},
{"p":6,"s":12,"x":0,"y":4},{"p":6,"s":12,"x":10,"y":6},{"p":6,"s":12,"x":20,"y":8},{"p":6,"s":12,"x":30,"y":12},{"p":6,"s":12,"x":40,"y":14},{"p":6,"s":12,"x":50,"y":13},{"p":6,"s":12,"x":60,"y":12},{"p":6,"s":12,"x":70,"y":8},{"p":6,"s":12,"x":80,"y":2},{"p":6,"s":12,"x":90,"y":1},{"p":6,"s":12,"x":100,"y":5},
{"p":6,"s":13,"x":0,"y":12},{"p":6,"s":13,"x":10,"y":14},{"p":6,"s":13,"x":20,"y":18},{"p":6,"s":13,"x":30,"y":22},{"p":6,"s":13,"x":40,"y":28},{"p":6,"s":13,"x":50,"y":32},{"p":6,"s":13,"x":60,"y":32},{"p":6,"s":13,"x":70,"y":31},{"p":6,"s":13,"x":80,"y":22},{"p":6,"s":13,"x":90,"y":10},{"p":6,"s":13,"x":100,"y":8}
]},
"data":{"name":"pts"},
"transform":[
{"lookup":"p","from":{"data":{"name":"panels"},"key":"p","fields":["c","a","lab"]}},
{"lookup":"s","from":{"data":{"name":"series"},"key":"s","fields":["m"]}}
],
"facet":{
"row":{"field":"a","type":"nominal","sort":"descending","title":"final activation time","header":{"labels":false,"titleFont":"Liberation Serif","titleFontSize":27,"titleFontWeight":"normal","titleColor":"#262626","titlePadding":5}},
"column":{"field":"c","type":"nominal","sort":["S1S3","S1E2"],"title":"x","header":{"labelOrient":"top","titleOrient":"bottom","labelExpr":"datum.value == 'S1S3' ? ['S1S3', 'beat period\u2002≈\u2002300'] : ['S1E2', 'beat period\u2002≈\u2002460']","labelFont":"Liberation Serif","labelFontSize":26,"labelLineHeight":33,"labelPadding":9,"labelColor":"#111","titleFont":"Liberation Serif","titleFontSize":26,"titleFontStyle":"italic","titleFontWeight":"normal","titleColor":"#262626","titlePadding":0}}
},
"spacing":{"row":7,"column":31},
"spec":{
"width":388,"height":191,
"encoding":{
"x":{"field":"x","type":"quantitative","scale":{"domain":[0,100],"nice":false},"axis":{"values":[0,20,40,60,80,100],"title":null}},
"y":{"field":"y","type":"quantitative","scale":{"domain":[0,130],"nice":false,"zero":false},"axis":{"values":[0,50,100],"title":null}}
},
"layer":[
{"transform":[{"filter":"datum.s > 0"}],
"mark":{"type":"line","clip":true,"interpolate":"monotone"},
"encoding":{"detail":{"field":"s","type":"nominal"},
"color":{"field":"c","type":"nominal","scale":{"domain":["S1S3","S1E2"],"range":["#dc143c","#ffa500"]},"legend":null},
"strokeWidth":{"field":"m","type":"ordinal","scale":{"domain":["HP","PP, n=120"],"range":[3.6,1]},"legend":{"title":"Model","orient":"none","legendX":813,"legendY":244,"symbolType":"stroke","symbolSize":1600,"symbolStrokeColor":"#222","labelFont":"Liberation Serif","labelFontSize":27,"labelColor":"#111","titleFont":"Liberation Serif","titleFontSize":27,"titleFontWeight":"normal","titleColor":"#111","titleAnchor":"middle","rowPadding":3,"labelOffset":5,"titlePadding":0}}}},
{"transform":[{"filter":"datum.s == 0"}],
"mark":{"type":"line","clip":true,"interpolate":"monotone","color":"black"},
"encoding":{"strokeWidth":{"field":"m","type":"ordinal"}}},
{"transform":[{"filter":"datum.s == 0 && datum.x == 0"}],
"mark":{"type":"text","font":"Liberation Serif","fontSize":26,"baseline":"alphabetic","align":"center","color":"#111"},
"encoding":{"x":{"datum":50,"type":"quantitative"},"y":{"datum":112.5,"type":"quantitative"},"text":{"field":"lab"}}}
]
}
}
